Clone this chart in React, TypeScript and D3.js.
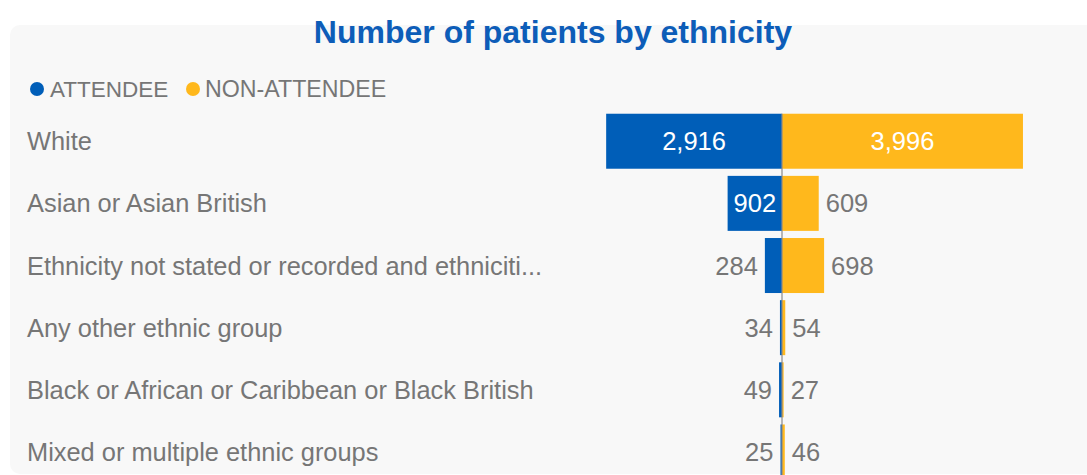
import React from "react";
import * as d3 from "d3";

const categories = [
  "White",
  "Asian or Asian British",
  "Ethnicity not stated or recorded and ethniciti...",
  "Any other ethnic group",
  "Black or African or Caribbean or Black British",
  "Mixed or multiple ethnic groups",
];
const attendee = [2916, 902, 284, 34, 49, 25];
const nonAttendee = [3996, 609, 698, 54, 27, 46];
const seriesNames = ["ATTENDEE", "NON-ATTENDEE"];

const W = 1087;
const H = 475;
const BLUE = "#005EB8";
const YELLOW = "#FFB81C";
const GRAY = "#767676";
const FONT = "'Liberation Sans', Arial, sans-serif";

const centerX = 782;
const pxPerUnit = 0.0603;
const top = 110;
const rowPitch = 62.2;
const valueFont = 25.5;

function textW(s: string) {
  return s.length * valueFont * 0.53;
}

export default function App() {
  const fmt = d3.format(",");
  const y = d3
    .scaleBand<string>()
    .domain(categories)
    .range([top, top + rowPitch * categories.length])
    .paddingInner(0.115)
    .paddingOuter(0.06);
  const maxV = 4000;
  const xLeft = d3.scaleLinear().domain([0, maxV]).range([centerX, centerX - maxV * pxPerUnit]);
  const xRight = d3.scaleLinear().domain([0, maxV]).range([centerX, centerX + maxV * pxPerUnit]);
  const bh = y.bandwidth();

  return (
    <div style={{ position: "fixed", left: 0, top: 0, width: W, height: H, background: "#fff" }}>
      <svg width={W} height={H} style={{ display: "block" }}>
        <rect x={10} y={25} width={W} height={H - 26} rx={10} fill="#f8f8f8" />
        <text
          x={553}
          y={43}
          textAnchor="middle"
          fontFamily={FONT}
          fontWeight="bold"
          fontSize={32}
          fill="#0D5DB8"
        >
          Number of patients by ethnicity
        </text>
        {/* legend */}
        <circle cx={37} cy={89} r={7} fill={BLUE} />
        <text x={50} y={97} fontFamily={FONT} fontSize={22.5} fill={GRAY}>
          {seriesNames[0]}
        </text>
        <circle cx={193} cy={89} r={7} fill={YELLOW} />
        <text x={205} y={97} fontFamily={FONT} fontSize={23.2} fill={GRAY}>
          {seriesNames[1]}
        </text>
        {categories.map((c, i) => {
          const by = y(c)!;
          const cy = by + bh / 2;
          const a = attendee[i];
          const n = nonAttendee[i];
          const ax = xLeft(a);
          const nx = xRight(n);
          const aw = centerX - ax;
          const nw = nx - centerX;
          const aLbl = fmt(a);
          const nLbl = fmt(n);
          const aIn = aw >= textW(aLbl) + 6;
          const nIn = nw >= textW(nLbl) + 6;
          return (
            <g key={c}>
              <text x={27} y={cy + 9} fontFamily={FONT} fontSize={25.4} fill={GRAY}>
                {c}
              </text>
              <rect x={ax} y={by} width={aw} height={bh} fill={BLUE} />
              <rect x={centerX} y={by} width={nw} height={bh} fill={YELLOW} />
              <text
                x={aIn ? centerX - aw / 2 : ax - 7}
                y={cy + 9}
                textAnchor={aIn ? "middle" : "end"}
                fontFamily={FONT}
                fontSize={valueFont}
                fill={aIn ? "#fff" : GRAY}
              >
                {aLbl}
              </text>
              <text
                x={nIn ? centerX + nw / 2 : nx + 7}
                y={cy + 9}
                textAnchor={nIn ? "middle" : "start"}
                fontFamily={FONT}
                fontSize={valueFont}
                fill={nIn ? "#fff" : GRAY}
              >
                {nLbl}
              </text>
            </g>
          );
        })}
        <line x1={centerX} x2={centerX} y1={y(categories[0])!} y2={H} stroke="#8a8a8a" strokeWidth={1.2} />
      </svg>
    </div>
  );
}
